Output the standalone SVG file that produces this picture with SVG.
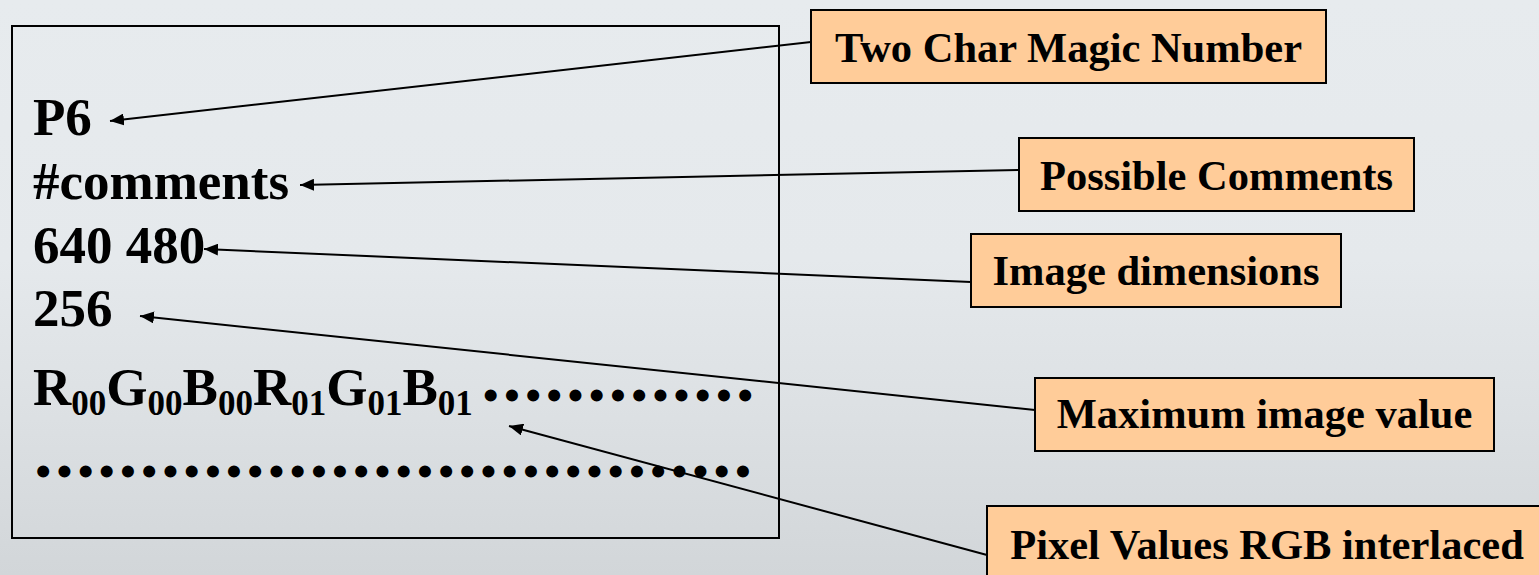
<svg xmlns="http://www.w3.org/2000/svg" width="1539" height="575" viewBox="0 0 1539 575">
<defs>
<linearGradient id="bg" x1="0" y1="0" x2="0" y2="1">
<stop offset="0" stop-color="#E7EBEE"/>
<stop offset="0.45" stop-color="#E5E9EC"/>
<stop offset="0.7" stop-color="#DDE1E4"/>
<stop offset="1" stop-color="#D2D6D9"/>
</linearGradient>
<marker id="ah" viewBox="0 0 14 12" refX="14" refY="6" markerWidth="14" markerHeight="12" markerUnits="userSpaceOnUse" orient="auto">
<path d="M14,6 L0,0 L0,12 Z" fill="#000"/>
</marker>
<style>
.main{font-family:"Liberation Serif","Times New Roman",serif;font-weight:bold;font-size:53px;fill:#000}
.sub{font-size:35px}
.lbl{font-family:"Liberation Serif","Times New Roman",serif;font-weight:bold;font-size:42.5px;fill:#000;text-anchor:middle}
.box{fill:#FFCC99;stroke:#000;stroke-width:2}
.conn{stroke:#000;stroke-width:2;fill:none;marker-end:url(#ah)}
.dots{font-size:44px;letter-spacing:5.8px}
</style>
</defs>
<rect x="0" y="0" width="1539" height="575" fill="url(#bg)"/>
<g id="header">
<rect x="12" y="26" width="767" height="512" fill="none" stroke="#000" stroke-width="2"/>
<text class="main" x="33" y="135">P6</text>
<text class="main" x="33" y="199">#comments</text>
<text class="main" x="33" y="263">640 480</text>
<text class="main" x="33" y="326">256</text>
<text class="main" x="33" y="405">R<tspan class="sub" dy="10">00</tspan><tspan dy="-10">G</tspan><tspan class="sub" dy="10">00</tspan><tspan dy="-10">B</tspan><tspan class="sub" dy="10">00</tspan><tspan dy="-10">R</tspan><tspan class="sub" dy="10">01</tspan><tspan dy="-10">G</tspan><tspan class="sub" dy="10">01</tspan><tspan dy="-10">B</tspan><tspan class="sub" dy="10">01</tspan></text>
<text class="main dots" x="483" y="410">•••••••••••••</text>
<text class="main dots" x="35.5" y="486">••••••••••••••••••••••••••••••••••</text>
</g>
<g id="magic">
<rect class="box" x="811" y="10" width="515" height="73"/>
<text class="lbl" x="1068.5" y="62">Two Char Magic Number</text>
</g>
<g id="comments">
<rect class="box" x="1019" y="138" width="395" height="73"/>
<text class="lbl" x="1216.5" y="190">Possible Comments</text>
</g>
<g id="dimensions">
<rect class="box" x="971" y="234" width="370" height="73"/>
<text class="lbl" x="1156" y="285">Image dimensions</text>
</g>
<g id="maxval">
<rect class="box" x="1035" y="378" width="459" height="73"/>
<text class="lbl" x="1264.5" y="428">Maximum image value</text>
</g>
<g id="pixels">
<rect class="box" x="987" y="506" width="562" height="80"/>
<text class="lbl" x="1267" y="559">Pixel Values RGB interlaced</text>
</g>
<g id="connectors">
<line class="conn" x1="811" y1="42" x2="110" y2="121"/>
<line class="conn" x1="1019" y1="170" x2="300" y2="185"/>
<line class="conn" x1="971" y1="282" x2="204" y2="249"/>
<line class="conn" x1="1035" y1="410" x2="140" y2="316"/>
<line class="conn" x1="987" y1="555" x2="509" y2="426"/>
</g>
</svg>
